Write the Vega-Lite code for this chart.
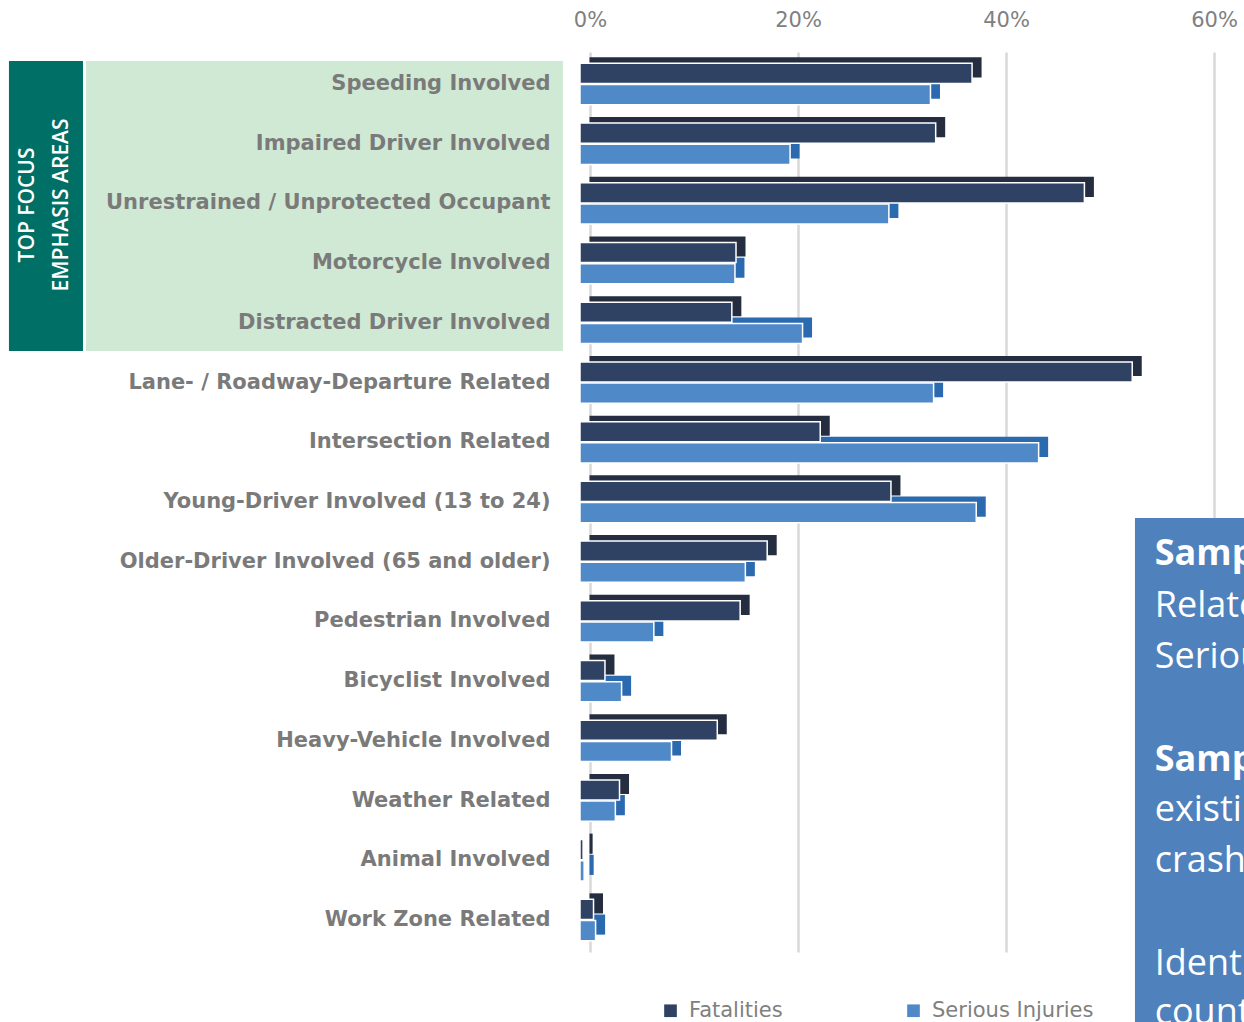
{
  "$schema": "https://vega.github.io/schema/vega-lite/v6.json",
  "autosize": {"type": "none"},
  "padding": {"left": 590, "top": 52, "right": 30, "bottom": 70},
  "width": 624,
  "height": 900,
  "background": "white",
  "config": {
    "view": {"stroke": null},
    "axis": {"labelFont": "DejaVu Sans"},
    "legend": {"labelFont": "DejaVu Sans"}
  },
  "encoding": {
    "x": {
      "field": "value",
      "type": "quantitative",
      "scale": {"domain": [0, 0.6], "nice": false, "zero": false, "clamp": false},
      "axis": {
        "orient": "top",
        "values": [0, 0.2, 0.4, 0.6],
        "format": ".0%",
        "title": null,
        "domain": false,
        "ticks": false,
        "grid": true,
        "gridColor": "#D9D9D9",
        "gridWidth": 2.5,
        "labelFlush": false,
        "labelFontSize": 21,
        "labelColor": "#808080",
        "labelPadding": 22
      }
    }
  },
  "layer": [
    {
      "encoding": {
        "y": {
          "field": "r",
          "type": "quantitative",
          "scale": {"domain": [-0.5444, 14.531], "reverse": true, "nice": false, "zero": false},
          "axis": null
        }
      },
      "layer": [
        {
          "data": {"values": [
            {"name": "highlight", "value": -0.4846, "value2": -0.026, "r": -0.394, "r2": 4.464}
          ]},
          "mark": {"type": "rect", "color": "#D0E9D4"},
          "encoding": {"x2": {"field": "value2"}, "y2": {"field": "r2"}}
        },
        {
          "data": {"values": [
            {"name": "tab", "value": -0.5587, "value2": -0.4875, "r": -0.394, "r2": 4.464}
          ]},
          "mark": {"type": "rect", "color": "#007066"},
          "encoding": {"x2": {"field": "value2"}, "y2": {"field": "r2"}}
        },
        {
          "data": {"values": [
            {"label": "TOP FOCUS", "value": -0.5404, "r": 2.018},
            {"label": "EMPHASIS AREAS", "value": -0.5077, "r": 2.018}
          ]},
          "mark": {"type": "text", "angle": 270, "align": "center", "baseline": "middle", "font": "Open Sans", "fontSize": 21, "fontWeight": 600, "color": "white"},
          "encoding": {"text": {"field": "label"}}
        },
        {
          "data": {"values": [
            {"name": "note", "value": 0.524, "value2": 0.68, "r": 7.261, "r2": 16.2}
          ]},
          "mark": {"type": "rect", "color": "#4F81BD"},
          "encoding": {"x2": {"field": "value2"}, "y2": {"field": "r2"}}
        },
        {
          "data": {"values": [
            {"label": "Sample Goal:", "value": 0.543, "r": 7.864},
            {"label": "Sample Strategy:", "value": 0.543, "r": 11.315}
          ]},
          "mark": {"type": "text", "align": "left", "baseline": "middle", "font": "Open Sans", "fontSize": 36, "fontWeight": "bold", "color": "white"},
          "encoding": {"text": {"field": "label"}}
        },
        {
          "data": {"values": [
            {"label": "Related Fatalities and", "value": 0.543, "r": 8.735},
            {"label": "Serious Injuries", "value": 0.543, "r": 9.589},
            {"label": "existing programs", "value": 0.543, "r": 12.153},
            {"label": "crash data", "value": 0.543, "r": 13.007},
            {"label": "Identify", "value": 0.543, "r": 14.732},
            {"label": "counties", "value": 0.543, "r": 15.553}
          ]},
          "mark": {"type": "text", "align": "left", "baseline": "middle", "font": "Open Sans", "fontSize": 36, "color": "white"},
          "encoding": {"text": {"field": "label"}}
        }
      ]
    },
    {
      "data": {"values": [
        {"category": "Speeding Involved", "series": "Fatalities", "value": 0.377},
        {"category": "Speeding Involved", "series": "Serious Injuries", "value": 0.337},
        {"category": "Impaired Driver Involved", "series": "Fatalities", "value": 0.342},
        {"category": "Impaired Driver Involved", "series": "Serious Injuries", "value": 0.202},
        {"category": "Unrestrained / Unprotected Occupant", "series": "Fatalities", "value": 0.485},
        {"category": "Unrestrained / Unprotected Occupant", "series": "Serious Injuries", "value": 0.297},
        {"category": "Motorcycle Involved", "series": "Fatalities", "value": 0.150},
        {"category": "Motorcycle Involved", "series": "Serious Injuries", "value": 0.149},
        {"category": "Distracted Driver Involved", "series": "Fatalities", "value": 0.146},
        {"category": "Distracted Driver Involved", "series": "Serious Injuries", "value": 0.214},
        {"category": "Lane- / Roadway-Departure Related", "series": "Fatalities", "value": 0.531},
        {"category": "Lane- / Roadway-Departure Related", "series": "Serious Injuries", "value": 0.340},
        {"category": "Intersection Related", "series": "Fatalities", "value": 0.231},
        {"category": "Intersection Related", "series": "Serious Injuries", "value": 0.441},
        {"category": "Young-Driver Involved (13 to 24)", "series": "Fatalities", "value": 0.299},
        {"category": "Young-Driver Involved (13 to 24)", "series": "Serious Injuries", "value": 0.381},
        {"category": "Older-Driver Involved (65 and older)", "series": "Fatalities", "value": 0.180},
        {"category": "Older-Driver Involved (65 and older)", "series": "Serious Injuries", "value": 0.159},
        {"category": "Pedestrian Involved", "series": "Fatalities", "value": 0.154},
        {"category": "Pedestrian Involved", "series": "Serious Injuries", "value": 0.071},
        {"category": "Bicyclist Involved", "series": "Fatalities", "value": 0.024},
        {"category": "Bicyclist Involved", "series": "Serious Injuries", "value": 0.040},
        {"category": "Heavy-Vehicle Involved", "series": "Fatalities", "value": 0.132},
        {"category": "Heavy-Vehicle Involved", "series": "Serious Injuries", "value": 0.088},
        {"category": "Weather Related", "series": "Fatalities", "value": 0.038},
        {"category": "Weather Related", "series": "Serious Injuries", "value": 0.034},
        {"category": "Animal Involved", "series": "Fatalities", "value": 0.003},
        {"category": "Animal Involved", "series": "Serious Injuries", "value": 0.004},
        {"category": "Work Zone Related", "series": "Fatalities", "value": 0.013},
        {"category": "Work Zone Related", "series": "Serious Injuries", "value": 0.015}
      ]},
      "encoding": {
        "yOffset": {
          "field": "series",
          "type": "nominal",
          "sort": ["Fatalities", "Serious Injuries"],
          "scale": {"paddingInner": 0.05, "paddingOuter": 0}
        }
      },
      "layer": [
        {
          "mark": {"type": "bar", "xOffset": -0.5, "x2Offset": -0.5},
          "encoding": {
            "y": {
              "field": "category",
              "type": "nominal",
              "sort": null,
              "scale": {"paddingInner": 0.308, "paddingOuter": 0.19, "align": 0.5, "range": [-6, 894]},
              "axis": null
            },
            "color": {
              "condition": {"test": "datum.series === 'Fatalities'", "value": "#252E40"},
              "value": "#2B6AAF"
            }
          }
        },
        {
          "mark": {"type": "bar", "xOffset": -10, "x2Offset": -10, "stroke": "white", "strokeWidth": 1.5},
          "encoding": {
            "y": {
              "field": "category",
              "type": "nominal",
              "sort": null,
              "scale": {"paddingInner": 0.308, "paddingOuter": 0.19, "align": 0.5},
              "axis": {
                "title": null,
                "domain": false,
                "ticks": false,
                "grid": false,
                "labelFont": "DejaVu Sans",
                "labelFontWeight": "bold",
                "labelFontSize": 21,
                "labelColor": "#7A7A7A",
                "labelPadding": 40,
                "labelDy": 3,
                "labelLimit": 600,
                "zindex": 2
              }
            },
            "color": {
              "field": "series",
              "type": "nominal",
              "scale": {"domain": ["Fatalities", "Serious Injuries"], "range": ["#2F4264", "#4F89C7"]},
              "legend": {
                "title": null,
                "orient": "none",
                "direction": "horizontal",
                "legendX": 70,
                "legendY": 948,
                "symbolType": "square",
                "symbolSize": 160,
                "symbolStrokeWidth": 0,
                "labelFontSize": 21,
                "labelColor": "#808080",
                "labelOffset": 8,
                "labelLimit": 400,
                "columnPadding": 120,
                "padding": 0
              }
            }
          }
        }
      ],
      "resolve": {"scale": {"y": "independent"}}
    }
  ],
  "resolve": {"scale": {"y": "independent"}, "axis": {"y": "independent"}}
}
